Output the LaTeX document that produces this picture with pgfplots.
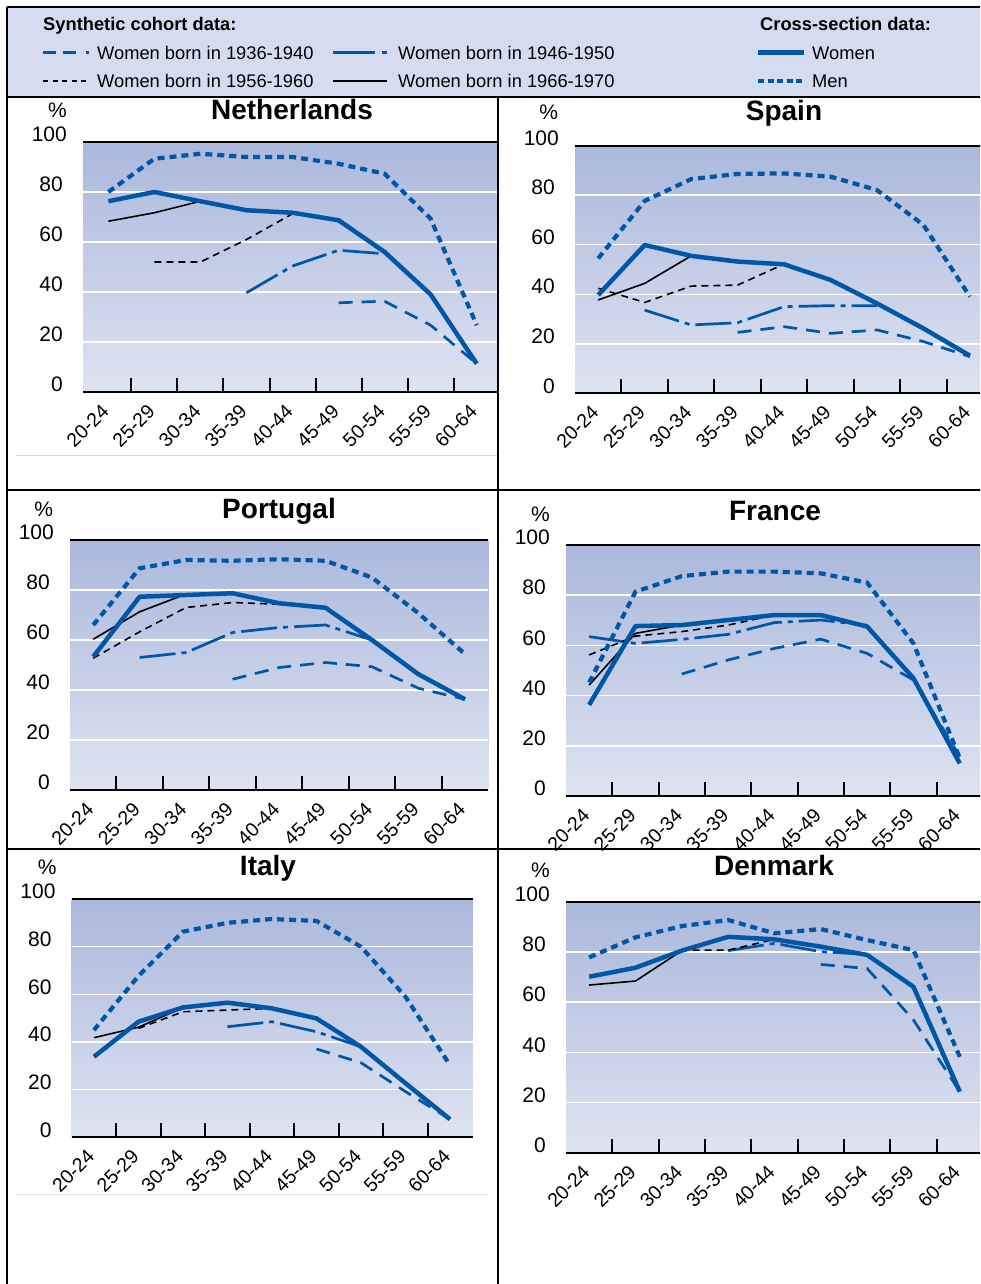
\documentclass[border=0pt]{standalone}
\usepackage{fontspec}
\setmainfont{Liberation Sans}
\usepackage{pgfplots}
\pgfplotsset{compat=1.18}
\definecolor{cblue}{HTML}{0057A8}
\definecolor{bgtop}{HTML}{AAB8DC}
\definecolor{bgbot}{HTML}{DFE3F1}
\definecolor{legbg}{HTML}{D6DCEF}
\newcommand\yfont{\fontsize{21}{25}\selectfont}
\newcommand\xfont{\fontsize{19.5}{23}\selectfont}
\newcommand\tfont{\fontsize{28}{32}\selectfont\bfseries}
\newcommand\lfont{\fontsize{18.3}{22}\selectfont}
\tikzset{
 c36/.style={cblue, line width=2.7pt, dash pattern=on 14pt off 9pt},
 c46/.style={cblue, line width=2.7pt, dash pattern=on 36pt off 6pt on 5pt off 6pt},
 c56/.style={black, line width=1.6pt, dash pattern=on 7pt off 5pt},
 c66/.style={black, line width=1.6pt},
 csw/.style={cblue, line width=4.5pt, line join=round},
 csm/.style={cblue, line width=4.2pt, dash pattern=on 7pt off 5pt},
}
\pgfplotsset{
 panel/.style={
  scale only axis, anchor=south west, clip mode=individual,
  ymin=0, ymax=100,
  separate axis lines,
  x axis line style={black, line width=2.2pt},
  y axis line style={draw=none},
  xtick={0,...,8},
  xticklabels={20-24,25-29,30-34,35-39,40-44,45-49,50-54,55-59,60-64},
  minor xtick={0.5,1.5,...,7.5},
  major tick length=0pt, minor tick length=14pt,
  tick align=inside, xtick pos=left, ytick pos=left,
  minor tick style={black, line width=2pt},
  major tick style={draw=none},
  ytick={0,20,...,100},
  yticklabels={0,20,40,60,80,100\kern-4pt},
  extra y ticks={20,40,60,80}, extra y tick labels={},
  extra y tick style={grid=major, major tick style={draw=none}},
  major grid style={white, line width=1.5pt},
  axis background/.style={top color=bgtop, bottom color=bgbot},
  xticklabel style={font=\xfont, inner sep=0pt, xshift=-3pt, yshift=-16pt, rotate=45, anchor=east},
  yticklabel style={font=\yfont, inner sep=0pt, xshift=-20pt, yshift=7.5pt, anchor=east},
 }
}
\begin{document}
\begin{tikzpicture}[x=1pt,y=1pt]
\useasboundingbox (0,0) rectangle (980,-1284);
\clip (0,0) rectangle (980,-1284);
\fill[white] (0,0) rectangle (980,-1284);
\fill[legbg] (7,-7) rectangle (990,-97);

% ---------- Netherlands
\begin{axis}[panel, at={(83pt,-392pt)}, width=415pt, height=250pt, xmin=-0.55, xmax=8.462]
\addplot[c36] coordinates {(5,35.7)(6,36.3)(7,26.7)(8,11.3)};
\addplot[c46] coordinates {(3,39.7)(4,50.4)(5,56.7)(6,55.3)};
\addplot[c56] coordinates {(1,52)(2,52)(3,61)(4,71.3)};
\addplot[c66] coordinates {(0,68.3)(1,71.7)(2,76.3)};
\addplot[csm] coordinates {(0,80)(1,93.3)(2,95.3)(3,94)(4,94)(5,91.3)(6,87.3)(7,69.3)(8,26.7)};
\addplot[csw] coordinates {(0,76.3)(1,80)(2,76.3)(3,72.7)(4,71.7)(5,68.7)(6,56)(7,39)(8,11.3)};
\end{axis}

% ---------- Spain
\begin{axis}[panel, at={(575pt,-393.3pt)}, width=410pt, height=247.6pt, xmin=-0.5, xmax=8.325]
\addplot[c36] coordinates {(3,24.6)(4,26.9)(5,24.2)(6,25.6)(7,20.9)(8,14.8)};
\addplot[c46] coordinates {(1,33.6)(2,27.6)(3,28.5)(4,35)(5,35.4)(6,35.4)};
\addplot[c56] coordinates {(0,42.4)(1,36.7)(2,43.3)(3,43.7)(4,52.2)};
\addplot[c66] coordinates {(0,37.7)(1,44.4)(2,55.5)};
\addplot[csm] coordinates {(0,54.5)(1,77.7)(2,86.5)(3,88.6)(4,88.8)(5,87.5)(6,82.1)(7,68)(8,39)};
\addplot[csw] coordinates {(0,39.7)(1,59.9)(2,55.5)(3,53.2)(4,52.1)(5,45.8)(6,36.3)(7,26.2)(8,15.2)};
\end{axis}

% ---------- Portugal
\begin{axis}[panel, at={(70pt,-790pt)}, width=418.3pt, height=250pt, xmin=-0.5, xmax=8.503]
\addplot[c36] coordinates {(3,44.3)(4,49)(5,51)(6,49.3)(7,40.7)(8,36.3)};
\addplot[c46] coordinates {(1,53)(2,55)(3,63)(4,65)(5,66)(6,60)};
\addplot[c56] coordinates {(0,52.7)(1,63.3)(2,73)(3,75)(4,74.3)};
\addplot[c66] coordinates {(0,60.3)(1,71.3)(2,78.4)};
\addplot[csm] coordinates {(0,66)(1,88.7)(2,92)(3,91.7)(4,92.3)(5,91.7)(6,85)(7,70.7)(8,54.4)};
\addplot[csw] coordinates {(0,53.3)(1,77.3)(2,78)(3,78.7)(4,74.7)(5,72.9)(6,60)(7,46.3)(8,36.3)};
\end{axis}

% ---------- France
\begin{axis}[panel, at={(566pt,-796pt)}, width=419pt, height=251pt, xmin=-0.5, xmax=8.544]
\addplot[c36] coordinates {(2,48.6)(3,54.2)(4,58.8)(5,62.5)(6,56.8)(7,46.2)(8,15.7)};
\addplot[c46] coordinates {(0,63.5)(1,60.8)(2,62.4)(3,64.4)(4,69.1)(5,70.1)(6,68)};
\addplot[c56] coordinates {(0,56.2)(1,63.7)(2,65.5)(3,68.1)(4,72.1)};
\addplot[c66] coordinates {(0,44.2)(1,64.8)(2,68.1)};
\addplot[csm] coordinates {(0,45.2)(1,81.4)(2,87.6)(3,89.4)(4,89.4)(5,88.7)(6,85)(7,60.8)(8,15)};
\addplot[csw] coordinates {(0,36.3)(1,67.7)(2,68.1)(3,70.1)(4,72.1)(5,72.1)(6,67.5)(7,46.9)(8,13)};
\end{axis}

% ---------- Italy
\begin{axis}[panel, at={(71.7pt,-1137.3pt)}, width=401pt, height=238.3pt, xmin=-0.5, xmax=8.511]
\addplot[c36] coordinates {(5,37.1)(6,31.3)(7,19.2)(8,7.6)};
\addplot[c46] coordinates {(3,46.4)(4,48.5)(5,44.3)(6,38)};
\addplot[c56] coordinates {(1,45.7)(2,52.7)(3,53.4)(4,54.1)};
\addplot[c66] coordinates {(0,41.8)(1,46.2)(2,54.4)};
\addplot[csm] coordinates {(0,45)(1,67.7)(2,86.3)(3,90)(4,91.6)(5,90.8)(6,80)(7,59)(8,30.3)};
\addplot[csw] coordinates {(0,33.8)(1,48.5)(2,54.5)(3,56.5)(4,54.1)(5,49.9)(6,38)(7,22.7)(8,7.6)};
\end{axis}

% ---------- Denmark
\begin{axis}[panel, at={(566pt,-1152.7pt)}, width=419pt, height=251pt, xmin=-0.5, xmax=8.544]
\addplot[c36] coordinates {(5,75)(6,73.4)(7,52.9)(8,24.3)};
\addplot[c46] coordinates {(3,80.5)(4,83.4)(5,80.1)(6,79)};
\addplot[c56] coordinates {(1,74.1)(2,80.7)(3,80.7)(4,85)};
\addplot[c66] coordinates {(0,66.8)(1,68.4)(2,80.5)};
\addplot[csm] coordinates {(0,77.8)(1,85.8)(2,90.3)(3,92.7)(4,87.4)(5,89.1)(6,84.7)(7,80.7)(8,38.2)};
\addplot[csw] coordinates {(0,70.1)(1,73.7)(2,80.5)(3,86)(4,85)(5,82.1)(6,78.8)(7,66.1)(8,24.3)};
\end{axis}

% titles and % labels
\node[anchor=base, font=\tfont] at (292,-120) {Netherlands};
\node[anchor=base, font=\tfont] at (784,-121) {Spain};
\node[anchor=base, font=\tfont] at (279,-518.3) {Portugal};
\node[anchor=base, font=\tfont] at (775,-520) {France};
\node[anchor=base, font=\tfont] at (268,-875) {Italy};
\node[anchor=base, font=\tfont] at (774,-875) {Denmark};
\node[anchor=base east, font=\yfont, inner sep=0pt] at (67,-117.5) {\%};
\node[anchor=base east, font=\yfont, inner sep=0pt] at (558.3,-120) {\%};
\node[anchor=base east, font=\yfont, inner sep=0pt] at (53.3,-516.7) {\%};
\node[anchor=base east, font=\yfont, inner sep=0pt] at (550,-521.7) {\%};
\node[anchor=base east, font=\yfont, inner sep=0pt] at (56.7,-874) {\%};
\node[anchor=base east, font=\yfont, inner sep=0pt] at (550,-877.3) {\%};

% faint separator lines
\draw[black!18, line width=0.8pt] (16,-455) -- (497,-455);
\draw[black!12, line width=0.8pt] (16,-1194) -- (488,-1194);

% frame
\draw[black, line width=2.5pt] (7,-7) -- (990,-7);
\draw[black, line width=2.5pt] (7,-7) -- (7,-1300);
\draw[black, line width=2.5pt] (7,-97) -- (990,-97);
\draw[black, line width=2.5pt] (498,-97) -- (498,-1300);
\draw[black, line width=2.5pt] (7,-490) -- (990,-490);
\draw[black, line width=2.5pt] (7,-849) -- (990,-849);

% legend
\node[anchor=base west, font=\lfont\bfseries, inner sep=0pt] at (43,-30.7) {Synthetic cohort data:};
\node[anchor=base west, font=\lfont\bfseries, inner sep=0pt] at (760,-30.7) {Cross-section data:};
\draw[cblue, line width=2.7pt, dash pattern=on 13pt off 7pt on 13pt off 10pt on 3pt off 20pt] (43,-52.5) -- (90,-52.5);
\node[anchor=base west, font=\lfont, inner sep=0pt] at (97,-60) {Women born in 1936-1940};
\draw[cblue, line width=2.7pt, dash pattern=on 42pt off 7pt on 5pt off 10pt] (333,-52.5) -- (387,-52.5);
\node[anchor=base west, font=\lfont, inner sep=0pt] at (398,-60) {Women born in 1946-1950};
\draw[black, line width=1.6pt, dash pattern=on 5pt off 4.5pt] (43,-81) -- (90,-81);
\node[anchor=base west, font=\lfont, inner sep=0pt] at (97,-87.3) {Women born in 1956-1960};
\draw[c66] (333,-81) -- (387,-81);
\node[anchor=base west, font=\lfont, inner sep=0pt] at (398,-87.3) {Women born in 1966-1970};
\draw[cblue, line width=4.2pt] (758,-52.5) -- (804,-52.5);
\node[anchor=base west, font=\lfont, inner sep=0pt] at (812,-60) {Women};
\draw[cblue, line width=4pt, dash pattern=on 6pt off 3.5pt] (758,-81) -- (804,-81);
\node[anchor=base west, font=\lfont, inner sep=0pt] at (812,-87.3) {Men};
\end{tikzpicture}
\end{document}
